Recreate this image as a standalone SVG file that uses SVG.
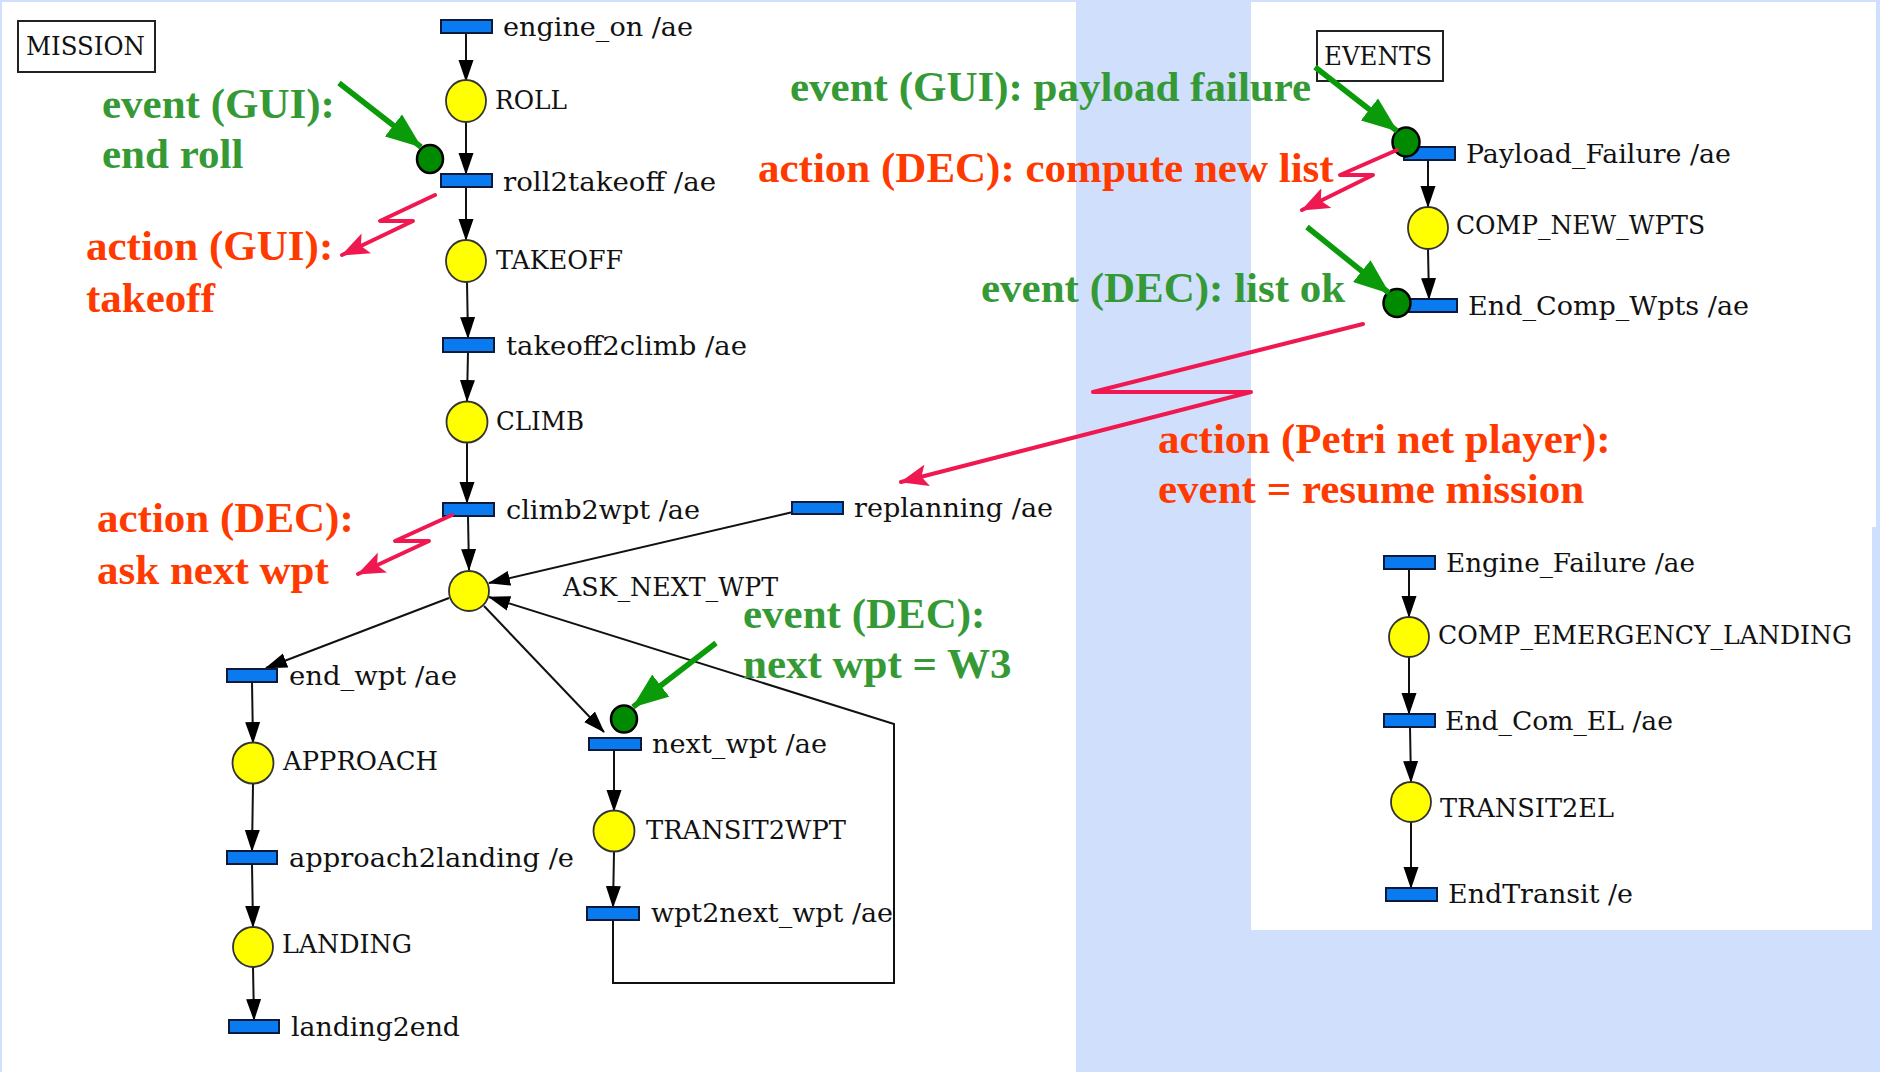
<svg xmlns="http://www.w3.org/2000/svg" width="1880" height="1072" viewBox="0 0 1880 1072">
<defs>
<style>
.tr{fill:#0a7af0;stroke:#0d1a3a;stroke-width:2}
.pl{fill:#ffff00;stroke:#333;stroke-width:1.8}
.tk{fill:#008a00;stroke:#000;stroke-width:2.5}
.lb{font-family:"DejaVu Serif","Liberation Serif",serif;font-size:26px;fill:#111}
.box{fill:#fff;stroke:#222;stroke-width:2}
.arc{fill:none;stroke:#111;stroke-width:2}
.red{fill:none;stroke:#f01850;stroke-width:4;stroke-linejoin:round;stroke-linecap:round}
.grn{fill:none;stroke:#0a9a0a;stroke-width:5.5}
.gt{font-family:"Liberation Serif","Times New Roman",serif;font-size:43px;font-weight:bold;fill:#359a35}
.rt{font-family:"Liberation Serif","Times New Roman",serif;font-size:43px;font-weight:bold;fill:#ff3a00}
</style>
<marker id="pa" markerUnits="userSpaceOnUse" markerWidth="22" markerHeight="16" refX="21" refY="8" orient="auto"><path d="M0,0.5 L22,8 L0,15.5 z" fill="#000"/></marker>
<marker id="ra" markerUnits="userSpaceOnUse" markerWidth="28" markerHeight="22" refX="27" refY="11" orient="auto"><path d="M0,0 L28,11 L0,22 L6,11 z" fill="#f01850"/></marker>
<marker id="ga" markerUnits="userSpaceOnUse" markerWidth="36" markerHeight="28" refX="35" refY="14" orient="auto"><path d="M0,0 L36,14 L0,28 z" fill="#0a9a0a"/></marker>
</defs>

<rect x="0" y="0" width="1880" height="1072" fill="#d0dffc"/>
<rect x="2" y="2" width="1074" height="1070" fill="#ffffff"/>
<rect x="1251" y="2" width="625" height="525" fill="#ffffff"/>
<rect x="1251" y="527" width="621" height="403" fill="#ffffff"/>

<g id="connectors">
  <line class="arc" x1="466" y1="34" x2="466" y2="81" marker-end="url(#pa)"/>
  <line class="arc" x1="466" y1="121" x2="466" y2="174" marker-end="url(#pa)"/>
  <line class="arc" x1="466" y1="187" x2="466" y2="240" marker-end="url(#pa)"/>
  <line class="arc" x1="467" y1="282" x2="468" y2="338" marker-end="url(#pa)"/>
  <line class="arc" x1="468" y1="352" x2="467" y2="401" marker-end="url(#pa)"/>
  <line class="arc" x1="467" y1="443" x2="467" y2="503" marker-end="url(#pa)"/>
  <line class="arc" x1="468" y1="516" x2="469" y2="570" marker-end="url(#pa)"/>
  <line class="arc" x1="793" y1="512" x2="489" y2="583" stroke-width="1.6" marker-end="url(#pa)"/>
  <polyline class="arc" points="613,920 613,983 894,983 894,724 489,597" stroke-width="1.6" marker-end="url(#pa)"/>
  <line class="arc" x1="449" y1="598" x2="266" y2="668" stroke-width="1.6" marker-end="url(#pa)"/>
  <line class="arc" x1="484" y1="606" x2="604" y2="732" stroke-width="1.6" marker-end="url(#pa)"/>
  <line class="arc" x1="252" y1="682" x2="253" y2="743" marker-end="url(#pa)"/>
  <line class="arc" x1="253" y1="784" x2="252" y2="851" marker-end="url(#pa)"/>
  <line class="arc" x1="252" y1="864" x2="253" y2="927" marker-end="url(#pa)"/>
  <line class="arc" x1="253" y1="967" x2="254" y2="1020" marker-end="url(#pa)"/>
  <line class="arc" x1="614" y1="750" x2="614" y2="811" marker-end="url(#pa)"/>
  <line class="arc" x1="614" y1="852" x2="613" y2="907" marker-end="url(#pa)"/>
  <line class="arc" x1="1428" y1="160" x2="1428" y2="207" marker-end="url(#pa)"/>
  <line class="arc" x1="1428" y1="249" x2="1429" y2="299" marker-end="url(#pa)"/>
  <line class="arc" x1="1409" y1="569" x2="1409" y2="617" marker-end="url(#pa)"/>
  <line class="arc" x1="1409" y1="657" x2="1409" y2="714" marker-end="url(#pa)"/>
  <line class="arc" x1="1410" y1="727" x2="1411" y2="782" marker-end="url(#pa)"/>
  <line class="arc" x1="1411" y1="822" x2="1411" y2="888" marker-end="url(#pa)"/>
</g>

<g id="mission-box"><rect class="box" x="18" y="21" width="137" height="51"/><text class="lb" x="26" y="55" textLength="119" lengthAdjust="spacingAndGlyphs">MISSION</text></g>
<g id="events-box"><rect class="box" x="1317" y="31" width="126" height="50"/><text class="lb" x="1324" y="65" textLength="108" lengthAdjust="spacingAndGlyphs">EVENTS</text></g>

<g id="engine_on"><rect class="tr" x="441" y="20" width="51" height="13"/><text class="lb" x="503" y="36" textLength="190" lengthAdjust="spacingAndGlyphs">engine_on /ae</text></g>
<g id="ROLL"><ellipse class="pl" cx="466" cy="101" rx="20" ry="21"/><text class="lb" x="495" y="109" textLength="72" lengthAdjust="spacingAndGlyphs">ROLL</text></g>
<g id="roll2takeoff"><rect class="tr" x="441" y="174" width="51" height="13"/><text class="lb" x="503" y="191" textLength="213" lengthAdjust="spacingAndGlyphs">roll2takeoff /ae</text></g>
<g id="TAKEOFF"><ellipse class="pl" cx="466" cy="261" rx="20" ry="21"/><text class="lb" x="496" y="269" textLength="127" lengthAdjust="spacingAndGlyphs">TAKEOFF</text></g>
<g id="takeoff2climb"><rect class="tr" x="443" y="338" width="51" height="14"/><text class="lb" x="506" y="355" textLength="241" lengthAdjust="spacingAndGlyphs">takeoff2climb /ae</text></g>
<g id="CLIMB"><circle class="pl" cx="467" cy="422" r="20.5"/><text class="lb" x="496" y="430" textLength="88" lengthAdjust="spacingAndGlyphs">CLIMB</text></g>
<g id="climb2wpt"><rect class="tr" x="443" y="503" width="51" height="13"/><text class="lb" x="506" y="519" textLength="194" lengthAdjust="spacingAndGlyphs">climb2wpt /ae</text></g>
<g id="ASK_NEXT_WPT"><circle class="pl" cx="469" cy="591" r="20"/><text class="lb" x="563" y="596" textLength="215" lengthAdjust="spacingAndGlyphs">ASK_NEXT_WPT</text></g>
<g id="replanning"><rect class="tr" x="792" y="502" width="51" height="12"/><text class="lb" x="854" y="517" textLength="199" lengthAdjust="spacingAndGlyphs">replanning /ae</text></g>
<g id="end_wpt"><rect class="tr" x="227" y="669" width="50" height="13"/><text class="lb" x="289" y="685" textLength="168" lengthAdjust="spacingAndGlyphs">end_wpt /ae</text></g>
<g id="APPROACH"><circle class="pl" cx="253" cy="763" r="20.5"/><text class="lb" x="283" y="770" textLength="155" lengthAdjust="spacingAndGlyphs">APPROACH</text></g>
<g id="approach2landing"><rect class="tr" x="227" y="851" width="50" height="13"/><text class="lb" x="289" y="867" textLength="285" lengthAdjust="spacingAndGlyphs">approach2landing /e</text></g>
<g id="LANDING"><circle class="pl" cx="253" cy="947" r="20"/><text class="lb" x="282" y="953" textLength="130" lengthAdjust="spacingAndGlyphs">LANDING</text></g>
<g id="landing2end"><rect class="tr" x="229" y="1020" width="50" height="13"/><text class="lb" x="291" y="1036" textLength="169" lengthAdjust="spacingAndGlyphs">landing2end</text></g>
<g id="next_wpt"><rect class="tr" x="589" y="738" width="52" height="12"/><text class="lb" x="652" y="753" textLength="175" lengthAdjust="spacingAndGlyphs">next_wpt /ae</text></g>
<g id="TRANSIT2WPT"><circle class="pl" cx="614" cy="831" r="20.5"/><text class="lb" x="646" y="839" textLength="200" lengthAdjust="spacingAndGlyphs">TRANSIT2WPT</text></g>
<g id="wpt2next_wpt"><rect class="tr" x="587" y="907" width="52" height="13"/><text class="lb" x="651" y="922" textLength="242" lengthAdjust="spacingAndGlyphs">wpt2next_wpt /ae</text></g>

<g id="Payload_Failure"><rect class="tr" x="1404" y="147" width="51" height="13"/><text class="lb" x="1466" y="163" textLength="265" lengthAdjust="spacingAndGlyphs">Payload_Failure /ae</text></g>
<g id="COMP_NEW_WPTS"><ellipse class="pl" cx="1428" cy="228" rx="20" ry="21"/><text class="lb" x="1456" y="234" textLength="249" lengthAdjust="spacingAndGlyphs">COMP_NEW_WPTS</text></g>
<g id="End_Comp_Wpts"><rect class="tr" x="1407" y="299" width="50" height="13"/><text class="lb" x="1468" y="315" textLength="281" lengthAdjust="spacingAndGlyphs">End_Comp_Wpts /ae</text></g>
<g id="Engine_Failure"><rect class="tr" x="1384" y="556" width="51" height="13"/><text class="lb" x="1446" y="572" textLength="249" lengthAdjust="spacingAndGlyphs">Engine_Failure /ae</text></g>
<g id="COMP_EMERGENCY_LANDING"><circle class="pl" cx="1409" cy="637" r="20"/><text class="lb" x="1438" y="644" textLength="414" lengthAdjust="spacingAndGlyphs">COMP_EMERGENCY_LANDING</text></g>
<g id="End_Com_EL"><rect class="tr" x="1384" y="714" width="51" height="13"/><text class="lb" x="1445" y="730" textLength="228" lengthAdjust="spacingAndGlyphs">End_Com_EL /ae</text></g>
<g id="TRANSIT2EL"><circle class="pl" cx="1411" cy="802" r="20"/><text class="lb" x="1440" y="817" textLength="174" lengthAdjust="spacingAndGlyphs">TRANSIT2EL</text></g>
<g id="EndTransit"><rect class="tr" x="1386" y="888" width="51" height="13"/><text class="lb" x="1448" y="903" textLength="185" lengthAdjust="spacingAndGlyphs">EndTransit /e</text></g>

<g id="tokens">
  <ellipse class="tk" cx="430" cy="159" rx="13" ry="14"/>
  <ellipse class="tk" cx="624" cy="719" rx="13" ry="13.5"/>
  <ellipse class="tk" cx="1406" cy="142" rx="13.5" ry="14.5"/>
  <ellipse class="tk" cx="1397" cy="303" rx="13.5" ry="14"/>
</g>

<g id="annotation-arrows">
  <polyline class="red" points="435,195 380,221 413,221 342,255" marker-end="url(#ra)"/>
  <polyline class="red" points="452,515 395,541 429,541 358,574" marker-end="url(#ra)"/>
  <polyline class="red" points="1397,150 1340,175 1373,175 1302,210" marker-end="url(#ra)"/>
  <polyline class="red" points="1363,324 1093,392 1251,392 901,482" marker-end="url(#ra)"/>
  <line class="grn" x1="339" y1="83" x2="421" y2="147" marker-end="url(#ga)"/>
  <line class="grn" x1="1315" y1="67" x2="1397" y2="131" marker-end="url(#ga)"/>
  <line class="grn" x1="1307" y1="227" x2="1389" y2="293" marker-end="url(#ga)"/>
  <line class="grn" x1="716" y1="643" x2="633" y2="707" marker-end="url(#ga)"/>
</g>

<g id="annotations">
  <text class="gt" x="102" y="118">event (GUI):</text>
  <text class="gt" x="102" y="168">end roll</text>
  <text class="rt" x="86" y="260">action (GUI):</text>
  <text class="rt" x="86" y="312">takeoff</text>
  <text class="rt" x="97" y="532">action (DEC):</text>
  <text class="rt" x="97" y="584">ask next wpt</text>
  <text class="gt" x="743" y="628">event (DEC):</text>
  <text class="gt" x="743" y="678">next wpt = W3</text>
  <text class="gt" x="790" y="101">event (GUI): payload failure</text>
  <text class="rt" x="758" y="182">action (DEC): compute new list</text>
  <text class="gt" x="981" y="302">event (DEC): list ok</text>
  <text class="rt" x="1158" y="453">action (Petri net player):</text>
  <text class="rt" x="1158" y="503">event = resume mission</text>
</g>
</svg>
